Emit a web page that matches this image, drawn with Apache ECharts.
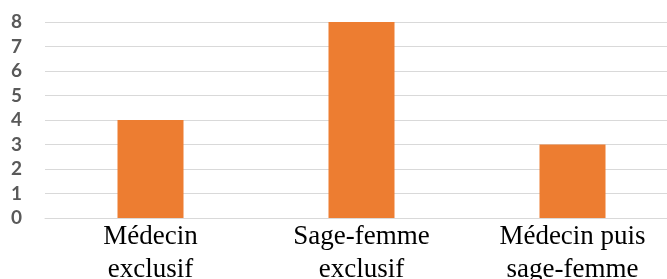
<!DOCTYPE html>
<html>
<head>
<meta charset="utf-8">
<script src="https://cdn.jsdelivr.net/npm/echarts@6/dist/echarts.min.js"></script>
<style>
html,body{margin:0;padding:0;background:#fff;}
#c{width:667px;height:279px;}
</style>
</head>
<body>
<div id="c"></div>
<script>
const categories = ["Médecin\nexclusif", "Sage-femme\nexclusif", "Médecin puis\nsage-femme"];
const values = [4, 8, 3];
const yTicks = { min: 0, max: 8, interval: 1 };

const chart = echarts.init(document.getElementById('c'), null, { renderer: 'canvas' });
chart.setOption({
  animation: false,
  backgroundColor: '#ffffff',
  grid: { left: 45, top: 22, bottom: 61, width: 633, containLabel: false, outerBoundsMode: 'none' },
  xAxis: {
    type: 'category',
    data: categories,
    axisLine: { show: true, lineStyle: { color: '#d9d9d9', width: 1 } },
    axisTick: { show: false },
    axisLabel: {
      interval: 0,
      margin: 2,
      color: '#000000',
      fontFamily: 'Liberation Serif',
      fontSize: 27,
      lineHeight: 33
    }
  },
  yAxis: {
    type: 'value',
    min: yTicks.min,
    max: yTicks.max,
    interval: yTicks.interval,
    axisLine: { show: false },
    axisTick: { show: false },
    splitLine: { show: true, lineStyle: { color: '#d9d9d9', width: 1 } },
    axisLabel: {
      margin: 23,
      color: '#595959',
      fontFamily: 'Lato',
      fontWeight: 'bold',
      fontSize: 19
    }
  },
  series: [{
    type: 'bar',
    data: values,
    barWidth: 66,
    itemStyle: { color: '#ED7D31' }
  }]
});
</script>
</body>
</html>
